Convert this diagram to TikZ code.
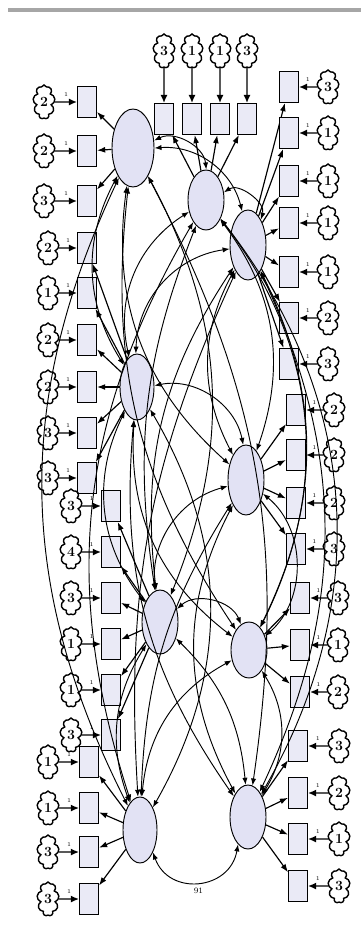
\documentclass[tikz,border=0pt]{standalone}
\usetikzlibrary{arrows.meta,shapes.geometric,shapes.symbols}

\definecolor{latfill}{RGB}{226,226,244}
\definecolor{obsfill}{RGB}{234,234,246}

\tikzset{
  obs/.style={draw, thick, fill=obsfill, minimum width=0.57cm, minimum height=0.93cm, inner sep=0pt},
  lat/.style={draw, thick, ellipse, fill=latfill, inner sep=0pt},
  err/.style={draw, very thick, cloud, cloud puffs=9, aspect=0.6, minimum width=0.66cm, minimum height=1.02cm, inner sep=0pt, font=\large\bfseries},
  load/.style={-{Latex[length=7pt,width=5pt]}, line width=1pt},
  errarr/.style={-{Latex[length=7pt,width=6pt]}, very thick},
  cov/.style={{Latex[length=6pt,width=4.5pt]}-{Latex[length=6pt,width=4.5pt]}, line width=0.8pt},
}

\begin{document}
\begin{tikzpicture}[x=0.03cm, y=0.03cm]
  \useasboundingbox (0,0) rectangle (361,-927);
  \draw[gray!70, line width=3pt] (8,-10) -- (361,-10);

  % latent factors
  \node[lat, minimum width=1.26cm, minimum height=2.34cm] (F1) at (133,-148) {};
  \node[lat, minimum width=1.08cm, minimum height=1.80cm] (F2) at (206,-200) {};
  \node[lat, minimum width=1.08cm, minimum height=2.10cm] (F3) at (248,-245) {};
  \node[lat, minimum width=1.02cm, minimum height=1.98cm] (F4) at (137,-387) {};
  \node[lat, minimum width=1.08cm, minimum height=2.10cm] (F5) at (246,-480) {};
  \node[lat, minimum width=1.08cm, minimum height=1.92cm] (F6) at (160,-622) {};
  \node[lat, minimum width=1.08cm, minimum height=1.68cm] (F7) at (249,-650) {};
  \node[lat, minimum width=1.02cm, minimum height=1.98cm] (F8) at (140,-830) {};
  \node[lat, minimum width=1.08cm, minimum height=1.92cm] (F9) at (248,-817) {};

  % indicators of F1
  \foreach \y/\e [count=\i] in {102/2,151/2,201/3} {
    \node[obs] (a\i) at (87,-\y) {};
    \node[err] (ea\i) at (44,-\y) {\e};
    \draw[errarr] (ea\i) -- node[above=1pt, font=\tiny] {1} (a\i);
    \draw[load] (F1) -- (a\i);
  }
  % indicators of F2
  \foreach \x/\e [count=\i] in {164/3,192/1,220/1,247/3} {
    \node[obs] (b\i) at (\x,-119) {};
    \node[err] (eb\i) at (\x,-51) {\e};
    \draw[errarr] (eb\i) -- (b\i);
    \draw[load] (F2) -- (b\i);
  }
  % indicators of F3
  \foreach \y/\e [count=\i] in {87/3,133/1,181/1,223/1,272/1,318/2,364/3} {
    \node[obs] (c\i) at (289,-\y) {};
    \node[err] (ec\i) at (328,-\y) {\e};
    \draw[errarr] (ec\i) -- node[above=1pt, font=\tiny] {1} (c\i);
    \draw[load] (F3) -- (c\i);
  }
  % indicators of F4
  \foreach \y/\e [count=\i] in {248/2,293/1,340/2,387/2,433/3,478/3} {
    \node[obs] (d\i) at (87,-\y) {};
    \node[err] (ed\i) at (48,-\y) {\e};
    \draw[errarr] (ed\i) -- node[above=1pt, font=\tiny] {1} (d\i);
    \draw[load] (F4) -- (d\i);
  }
  % indicators of F5
  \foreach \y/\e [count=\i] in {410/2,455/2,503/2,549/3} {
    \node[obs] (f\i) at (296,-\y) {};
    \node[err] (ef\i) at (334,-\y) {\e};
    \draw[errarr] (ef\i) -- node[above=1pt, font=\tiny] {1} (f\i);
    \draw[load] (F5) -- (f\i);
  }
  % indicators of F6
  \foreach \y/\e [count=\i] in {506/3,552/4,598/3,644/1,690/1,735/3} {
    \node[obs] (g\i) at (111,-\y) {};
    \node[err] (eg\i) at (71,-\y) {\e};
    \draw[errarr] (eg\i) -- node[above=1pt, font=\tiny] {1} (g\i);
    \draw[load] (F6) -- (g\i);
  }
  % indicators of F7
  \foreach \y/\e [count=\i] in {598/3,645/1,692/2} {
    \node[obs] (h\i) at (300,-\y) {};
    \node[err] (eh\i) at (338,-\y) {\e};
    \draw[errarr] (eh\i) -- node[above=1pt, font=\tiny] {1} (h\i);
    \draw[load] (F7) -- (h\i);
  }
  % indicators of F8
  \foreach \y/\e [count=\i] in {762/1,808/1,852/3,899/3} {
    \node[obs] (k\i) at (89,-\y) {};
    \node[err] (ek\i) at (48,-\y) {\e};
    \draw[errarr] (ek\i) -- node[above=1pt, font=\tiny] {1} (k\i);
    \draw[load] (F8) -- (k\i);
  }
  % indicators of F9
  \foreach \y/\e [count=\i] in {746/3,793/2,839/1,886/3} {
    \node[obs] (m\i) at (298,-\y) {};
    \node[err] (em\i) at (339,-\y) {\e};
    \draw[errarr] (em\i) -- node[above=1pt, font=\tiny] {1} (m\i);
    \draw[load] (F9) -- (m\i);
  }

  % covariances between factors
  \foreach \a/\b/\bend in {F1/F2/55, F2/F3/70, F1/F3/40, F1/F4/-30, F1/F5/-28,
      F1/F6/25, F1/F7/-20, F1/F8/-26, F1/F9/18, F2/F4/-35, F2/F5/28, F2/F6/-15,
      F2/F7/32, F2/F8/-24, F2/F9/34, F3/F4/-40, F3/F5/-28, F3/F6/-20, F3/F7/26,
      F3/F8/-14, F3/F9/25, F4/F5/45, F4/F6/-32, F4/F7/-28, F4/F8/30, F4/F9/-20,
      F5/F6/-40, F5/F7/50, F5/F8/-15, F5/F9/-28, F6/F7/55, F6/F8/-26, F6/F9/20,
      F7/F8/-28, F7/F9/32} {
    \draw[cov] (\a) to[bend left=\bend] (\b);
  }
  \draw[cov] (F8.-60) to[out=-70, in=-100, looseness=1.4]
    node[below=1pt, font=\scriptsize] {91} (F9.-110);
\end{tikzpicture}
\end{document}
